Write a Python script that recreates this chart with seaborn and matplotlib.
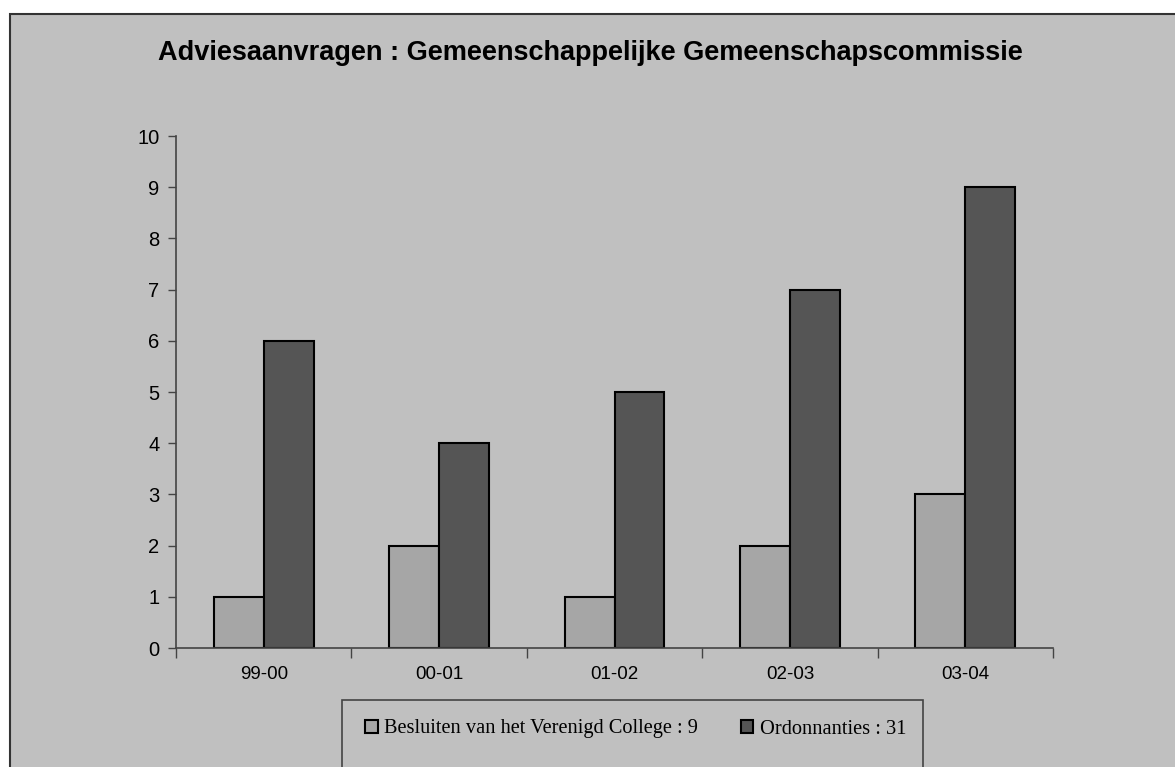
import pandas as pd
import seaborn as sns
import matplotlib.pyplot as plt
from matplotlib.patches import Rectangle

# Chart data
periods = ["99-00", "00-01", "01-02", "02-03", "03-04"]
besluiten = [1, 2, 1, 2, 3]
ordonnanties = [6, 4, 5, 7, 9]
series_names = ["Besluiten van het Verenigd College : 9", "Ordonnanties : 31"]
y_ticks = list(range(0, 11))

df = pd.DataFrame({
    "periode": periods * 2,
    "aantal": besluiten + ordonnanties,
    "soort": [series_names[0]] * len(periods) + [series_names[1]] * len(periods),
})

sns.set_style("white")
plt.rcParams['font.family'] = ['Liberation Sans', 'DejaVu Sans']

W, H = 1175, 767
fig = plt.figure(figsize=(W / 100, H / 100), dpi=100)
fig.patch.set_facecolor("white")

# grey chart area with border, running off the right and bottom edges
fig.patches.append(Rectangle((10 / W, -0.05), 1.1, 1 - 14 / H + 0.05,
                             transform=fig.transFigure, facecolor="#C0C0C0",
                             edgecolor="#333333", linewidth=1.5, zorder=0))

ax = fig.add_axes([176 / W, 1 - 648 / H, (1053 - 176) / W, (648 - 136) / H])
ax.set_facecolor("none")
ax.set_zorder(3)

sns.barplot(data=df, x="periode", y="aantal", hue="soort", order=periods,
            palette=["#A6A6A6", "#555555"], width=0.57, edgecolor="black",
            linewidth=1.5, saturation=1, ax=ax, legend=True)

ax.set_xlim(-0.5, len(periods) - 0.5)
ax.set_ylim(0, 10)
ax.set_yticks(y_ticks)
ax.set_xlabel("")
ax.set_ylabel("")

for s in ["top", "right"]:
    ax.spines[s].set_visible(False)
for s in ["left", "bottom"]:
    ax.spines[s].set_color("#444444")
    ax.spines[s].set_linewidth(1.2)

ax.tick_params(axis="y", direction="out", length=6, width=1, color="#444444",
               labelsize=14.5, pad=6, left=True, labelcolor="black")
ax.tick_params(axis="x", which="major", length=0, labelsize=13.5, pad=13,
               labelcolor="black")
ax.set_xticks([i - 0.5 for i in range(len(periods) + 1)], minor=True)
ax.tick_params(axis="x", which="minor", direction="out", length=7, width=1,
               color="#444444", bottom=True)

fig.text(0.5 + 3 / W, 1 - 53 / H,
         "Adviesaanvragen : Gemeenschappelijke Gemeenschapscommissie",
         ha="center", va="center", fontsize=19.5, fontweight="bold",
         color="black")

# legend box
fig.patches.append(Rectangle((342 / W, -0.05), (923 - 342) / W, (767 - 700) / H + 0.05,
                             transform=fig.transFigure, facecolor="none",
                             edgecolor="#444444", linewidth=1.2, zorder=1))
handles, labels = ax.get_legend_handles_labels()
ax.get_legend().remove()
leg = fig.legend(handles, labels, ncol=2, frameon=False,
                 loc="center left", bbox_to_anchor=(355 / W, 1 - 729 / H),
                 prop={"family": "Liberation Serif", "size": 14.7},
                 handlelength=0.62, handleheight=0.62, handletextpad=0.3,
                 columnspacing=2.1, borderpad=0)
for t in leg.get_texts():
    t.set_color("black")

fig.savefig("out.png", dpi=100)
